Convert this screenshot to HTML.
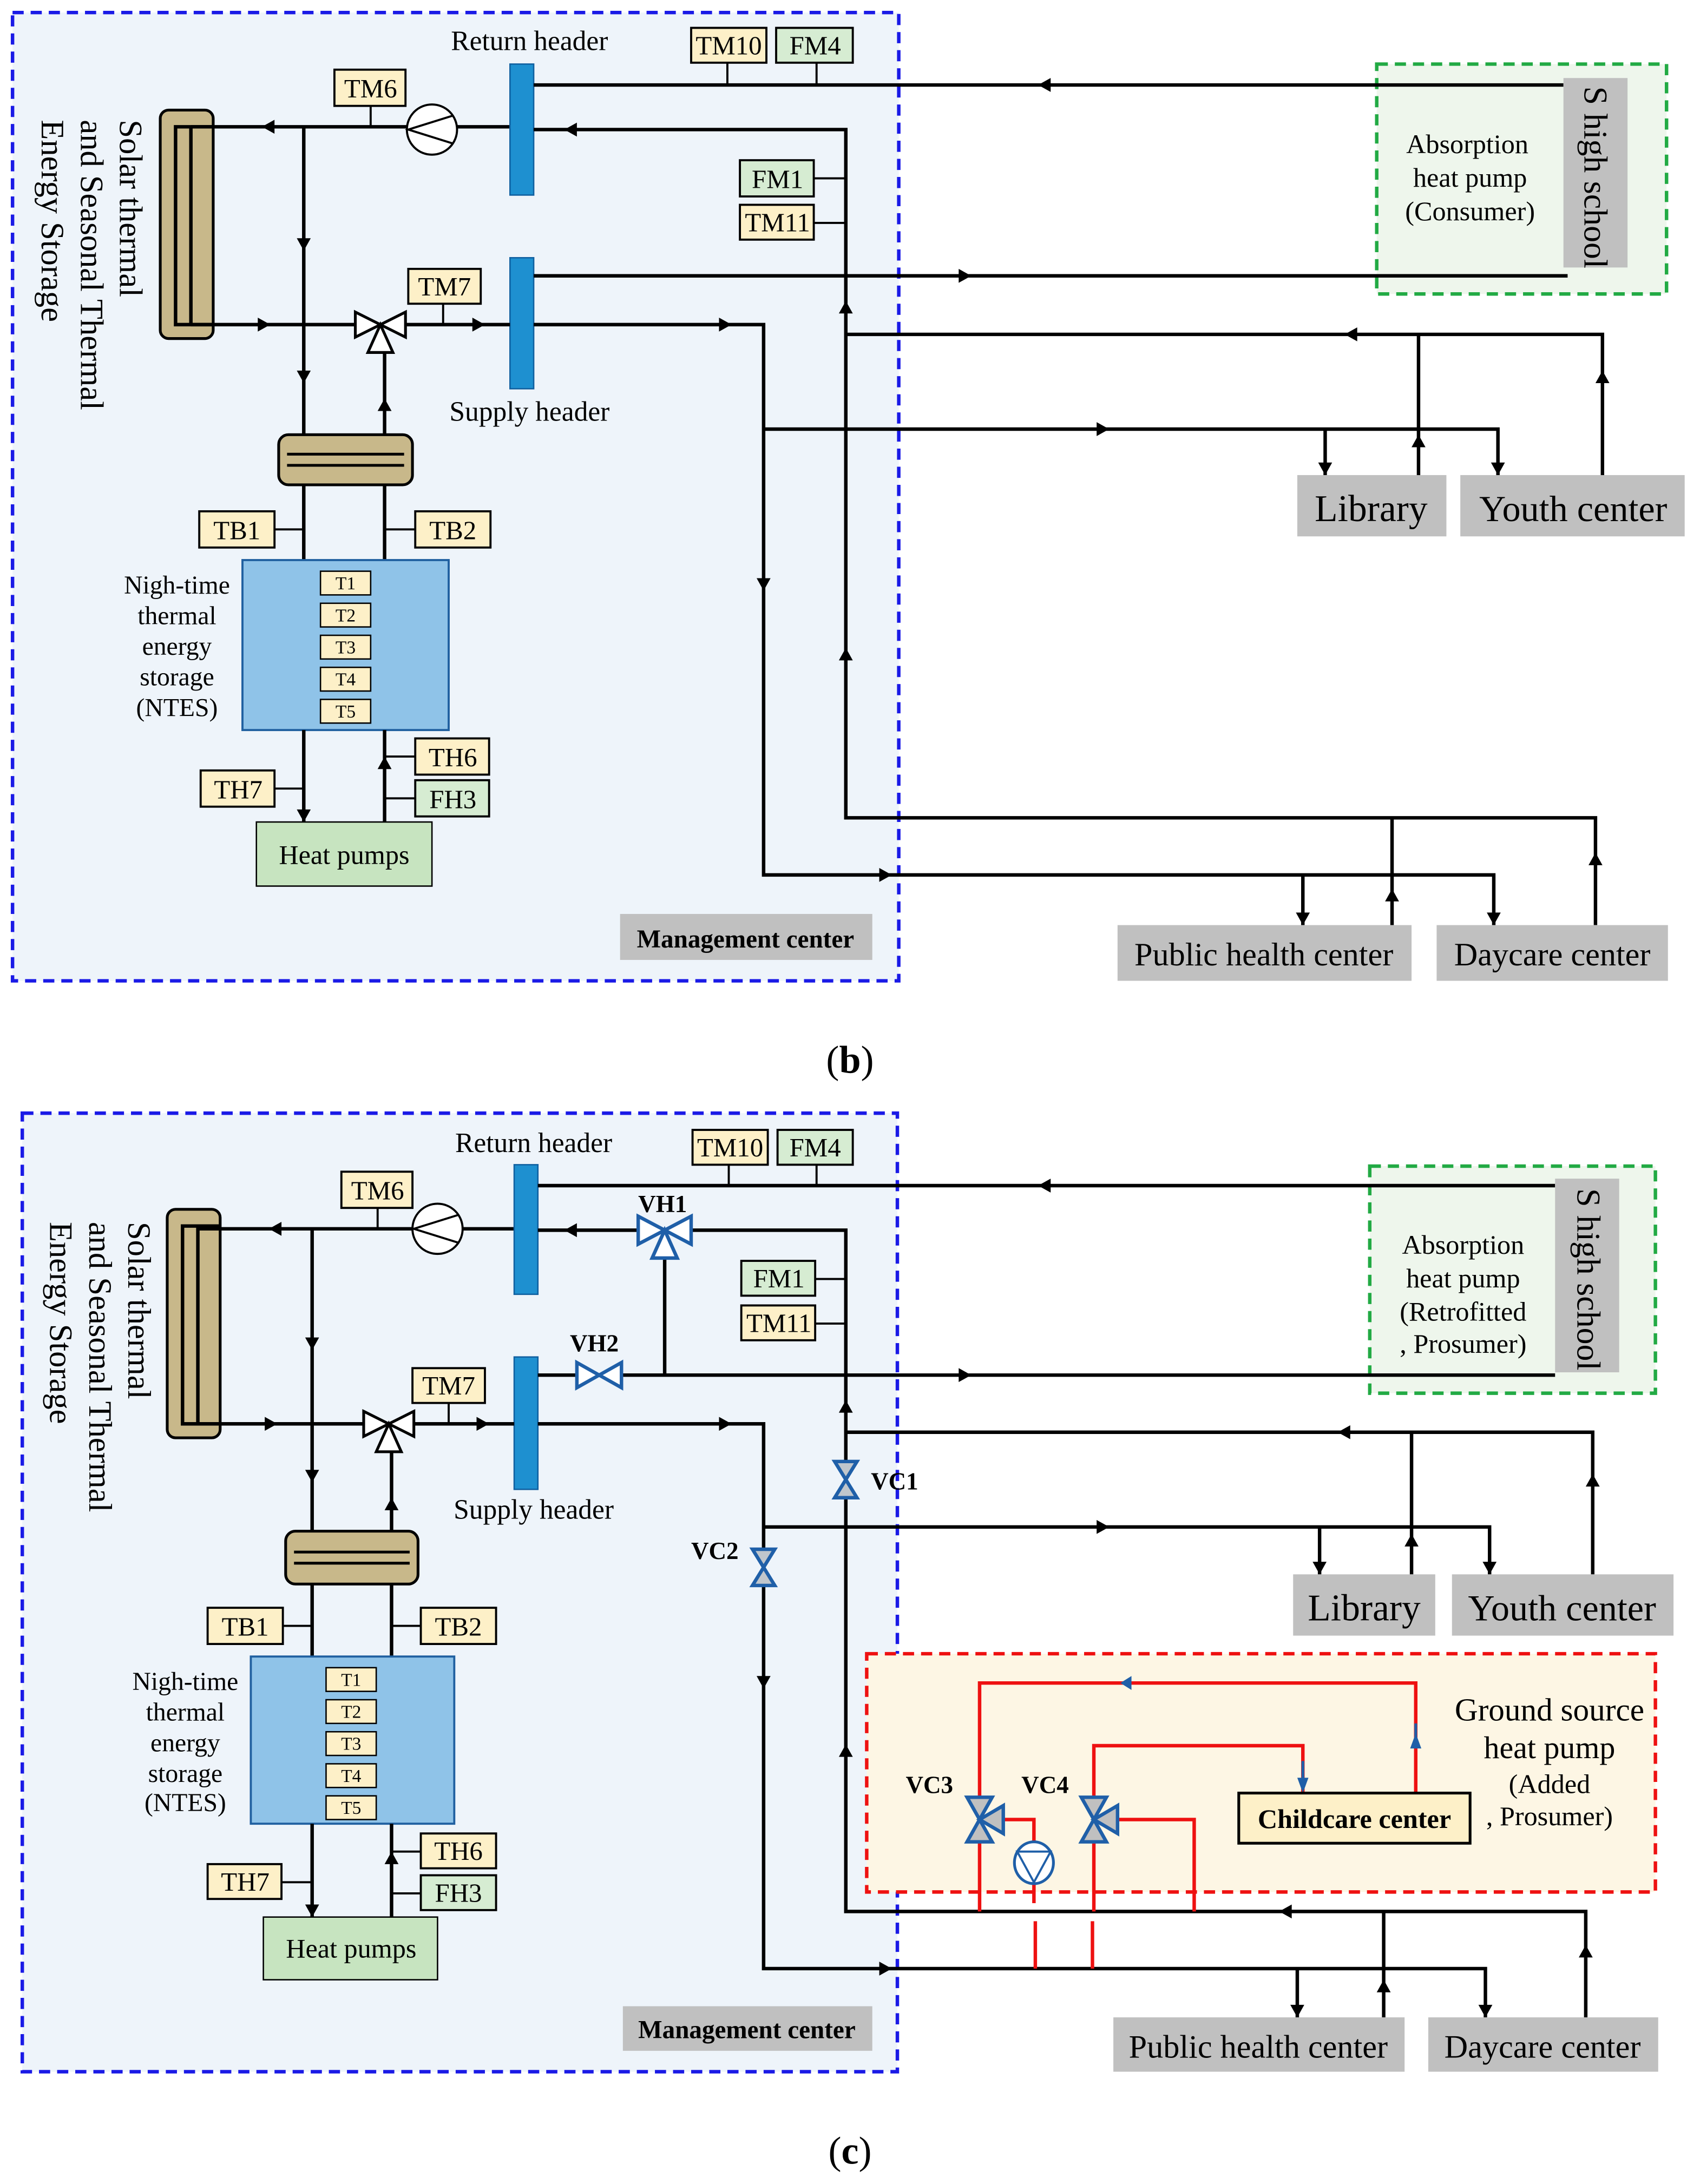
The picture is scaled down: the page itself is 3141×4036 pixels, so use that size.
<!DOCTYPE html>
<html><head><meta charset="utf-8"><style>
html,body{margin:0;padding:0;background:#fff;}
svg{display:block;}
text{font-family:"Liberation Serif",serif;fill:#000;}
</style></head><body>
<svg width="3141" height="4036" viewBox="0 0 1220 1567.6" preserveAspectRatio="none" xmlns="http://www.w3.org/2000/svg">
<defs>
<polygon id="aR" points="-9,-5 0,0 -9,5" fill="#000"/>
<polygon id="aL" points="9,-5 0,0 9,5" fill="#000"/>
<polygon id="aU" points="-5,9 0,0 5,9" fill="#000"/>
<polygon id="aD" points="-5,-9 0,0 5,-9" fill="#000"/>
</defs>

<!-- ================= PANEL B ================= -->
<rect x="9" y="9" width="636" height="695" fill="#eef4fa" stroke="#1a1ae6" stroke-width="2.5" stroke-dasharray="8,5"/>
<rect x="988" y="46" width="208" height="165" fill="#eef6ec" stroke="#22aa44" stroke-width="2.5" stroke-dasharray="8,5"/>

<g>
<rect x="115" y="79" width="38" height="164" rx="6" fill="#c8b88a" stroke="#000" stroke-width="2"/>
<path d="M153,91 H126 V233 H153 M137,91 V233" fill="none" stroke="#000" stroke-width="2.5"/>
<line x1="137" y1="91" x2="366" y2="91" stroke="#000" stroke-width="2.5"/>
<use href="#aL" x="188" y="91"/>
<circle cx="310" cy="93" r="18" fill="#fff" stroke="#000" stroke-width="1.5"/>
<path d="M325,83 L293,93 L325,103" fill="none" stroke="#000" stroke-width="1.5"/>
<rect x="240" y="50" width="51" height="26" fill="#fdf0c8" stroke="#000" stroke-width="1.5"/>
<text x="266" y="70" font-size="19" text-anchor="middle">TM6</text>
<line x1="266" y1="76" x2="266" y2="91" stroke="#000" stroke-width="1.5"/>
<rect x="366" y="46" width="17" height="94" fill="#1e90d0" stroke="#1060a0" stroke-width="1"/>
<rect x="366" y="185" width="17" height="94" fill="#1e90d0" stroke="#1060a0" stroke-width="1"/>
<text x="380" y="36" font-size="20" text-anchor="middle">Return header</text>
<text x="380" y="302" font-size="20" text-anchor="middle">Supply header</text>
<line x1="137" y1="233" x2="366" y2="233" stroke="#000" stroke-width="2.5"/>
<use href="#aR" x="194" y="233"/>
<use href="#aR" x="348" y="233"/>
<polygon points="255,224 273,233 255,242" fill="#fff" stroke="#000" stroke-width="2"/>
<polygon points="291,224 273,233 291,242" fill="#fff" stroke="#000" stroke-width="2"/>
<polygon points="264,253 273,233 282,253" fill="#fff" stroke="#000" stroke-width="2"/>
<rect x="293" y="193" width="52" height="25" fill="#fdf0c8" stroke="#000" stroke-width="1.5"/>
<text x="319" y="212" font-size="19" text-anchor="middle">TM7</text>
<line x1="318" y1="218" x2="318" y2="233" stroke="#000" stroke-width="1.5"/>
<line x1="218" y1="91" x2="218" y2="312" stroke="#000" stroke-width="2.5"/>
<use href="#aD" x="218" y="180"/>
<use href="#aD" x="218" y="275"/>
<line x1="276" y1="253" x2="276" y2="312" stroke="#000" stroke-width="2.5"/>
<use href="#aU" x="276" y="286"/>
<line x1="218" y1="348" x2="218" y2="402" stroke="#000" stroke-width="2.5"/>
<line x1="276" y1="348" x2="276" y2="402" stroke="#000" stroke-width="2.5"/>
<rect x="200" y="312" width="96" height="36" rx="7" fill="#c8b88a" stroke="#000" stroke-width="2"/>
<line x1="206" y1="326" x2="290" y2="326" stroke="#000" stroke-width="2"/>
<line x1="206" y1="334" x2="290" y2="334" stroke="#000" stroke-width="2"/>
<rect x="143" y="367" width="54" height="26" fill="#fdf0c8" stroke="#000" stroke-width="1.5"/>
<text x="170" y="387" font-size="19" text-anchor="middle">TB1</text>
<line x1="197" y1="380" x2="218" y2="380" stroke="#000" stroke-width="1.5"/>
<rect x="298" y="367" width="54" height="26" fill="#fdf0c8" stroke="#000" stroke-width="1.5"/>
<text x="325" y="387" font-size="19" text-anchor="middle">TB2</text>
<line x1="276" y1="380" x2="298" y2="380" stroke="#000" stroke-width="1.5"/>
<rect x="174" y="402" width="148" height="122" fill="#8fc3e8" stroke="#2060a0" stroke-width="1.5"/>
<g font-size="13" text-anchor="middle">
<rect x="230" y="410" width="36" height="17" fill="#fdf0c8" stroke="#000"/><text x="248" y="423">T1</text>
<rect x="230" y="433" width="36" height="17" fill="#fdf0c8" stroke="#000"/><text x="248" y="446">T2</text>
<rect x="230" y="456" width="36" height="17" fill="#fdf0c8" stroke="#000"/><text x="248" y="469">T3</text>
<rect x="230" y="479" width="36" height="17" fill="#fdf0c8" stroke="#000"/><text x="248" y="492">T4</text>
<rect x="230" y="502" width="36" height="17" fill="#fdf0c8" stroke="#000"/><text x="248" y="515">T5</text>
</g>
<g font-size="18.5" text-anchor="middle">
<text x="127" y="426">Nigh-time</text><text x="127" y="448">thermal</text><text x="127" y="470">energy</text><text x="127" y="492">storage</text><text x="127" y="514">(NTES)</text>
</g>
<line x1="218" y1="524" x2="218" y2="590" stroke="#000" stroke-width="2.5"/>
<use href="#aD" x="218" y="590"/>
<line x1="276" y1="524" x2="276" y2="590" stroke="#000" stroke-width="2.5"/>
<use href="#aU" x="276" y="543"/>
<rect x="298" y="530" width="53" height="26" fill="#fdf0c8" stroke="#000" stroke-width="1.5"/>
<text x="325" y="550" font-size="19" text-anchor="middle">TH6</text>
<line x1="276" y1="543" x2="298" y2="543" stroke="#000" stroke-width="1.5"/>
<rect x="298" y="560" width="53" height="26" fill="#d6ecd2" stroke="#000" stroke-width="1.5"/>
<text x="325" y="580" font-size="19" text-anchor="middle">FH3</text>
<line x1="276" y1="573" x2="298" y2="573" stroke="#000" stroke-width="1.5"/>
<rect x="144" y="553" width="53" height="26" fill="#fdf0c8" stroke="#000" stroke-width="1.5"/>
<text x="171" y="573" font-size="19" text-anchor="middle">TH7</text>
<line x1="197" y1="566" x2="218" y2="566" stroke="#000" stroke-width="1.5"/>
<rect x="184" y="590" width="126" height="46" fill="#c7e4c0" stroke="#000" stroke-width="1"/>
<text x="247" y="620" font-size="19.5" text-anchor="middle">Heat pumps</text>
<rect x="445" y="656" width="181" height="33" fill="#c0c0c0"/>
<text x="535" y="680" font-size="18.3" font-weight="bold" text-anchor="middle">Management center</text>
<g font-size="23.5">
<text transform="translate(86,86) rotate(90)">Solar thermal</text>
<text transform="translate(58,86) rotate(90)">and Seasonal Thermal</text>
<text transform="translate(30,86) rotate(90)">Energy Storage</text>
</g>
<rect x="496" y="20" width="54" height="25" fill="#fdf0c8" stroke="#000" stroke-width="1.5"/>
<text x="523" y="39" font-size="19" text-anchor="middle">TM10</text>
<rect x="557" y="20" width="55" height="25" fill="#d6ecd2" stroke="#000" stroke-width="1.5"/>
<text x="585" y="39" font-size="19" text-anchor="middle">FM4</text>
<line x1="522" y1="45" x2="522" y2="61" stroke="#000" stroke-width="1.5"/>
<line x1="586" y1="45" x2="586" y2="61" stroke="#000" stroke-width="1.5"/>
<rect x="531" y="115" width="53" height="26" fill="#d6ecd2" stroke="#000" stroke-width="1.5"/>
<text x="558" y="135" font-size="19" text-anchor="middle">FM1</text>
<rect x="531" y="147" width="53" height="25" fill="#fdf0c8" stroke="#000" stroke-width="1.5"/>
<text x="558" y="166" font-size="19" text-anchor="middle">TM11</text>
<line x1="584" y1="128" x2="607" y2="128" stroke="#000" stroke-width="1.5"/>
<line x1="584" y1="160" x2="607" y2="160" stroke="#000" stroke-width="1.5"/>
</g>

<g stroke="#000" stroke-width="2.5" fill="none">
<line x1="383" y1="61" x2="1122" y2="61"/>
<path d="M383,93 H607 V587 H1145 V664"/>
<line x1="383" y1="198" x2="1125" y2="198"/>
<path d="M383,233 H548 V628 H1072 V664"/>
<path d="M607,240 H1150 V341"/>
<line x1="1018" y1="240" x2="1018" y2="341"/>
<path d="M548,308 H1075 V341"/>
<line x1="951" y1="308" x2="951" y2="341"/>
<line x1="999" y1="587" x2="999" y2="664"/>
<line x1="935" y1="628" x2="935" y2="664"/>
</g>
<use href="#aL" x="745" y="61"/>
<use href="#aL" x="405" y="93"/>
<use href="#aR" x="697" y="198"/>
<use href="#aR" x="525" y="233"/>
<use href="#aD" x="548" y="424"/>
<use href="#aU" x="607" y="216"/>
<use href="#aU" x="607" y="465"/>
<use href="#aL" x="965" y="240"/>
<use href="#aU" x="1150" y="266"/>
<use href="#aU" x="1018" y="312"/>
<use href="#aR" x="796" y="308"/>
<use href="#aD" x="951" y="341"/>
<use href="#aD" x="1075" y="341"/>
<use href="#aR" x="640" y="628"/>
<use href="#aU" x="1145" y="612"/>
<use href="#aU" x="999" y="638"/>
<use href="#aD" x="935" y="664"/>
<use href="#aD" x="1072" y="664"/>

<rect x="1122" y="56" width="46" height="136" fill="#c0c0c0"/>
<text transform="translate(1137,62) rotate(90)" font-size="24">S high school</text>
<g font-size="19.5" text-anchor="middle">
<text x="1053" y="110">Absorption</text><text x="1055" y="134">heat pump</text><text x="1055" y="158">(Consumer)</text>
</g>
<rect x="931" y="341" width="107" height="44" fill="#c0c0c0"/>
<text x="984" y="374" font-size="27" text-anchor="middle">Library</text>
<rect x="1048" y="341" width="161" height="44" fill="#c0c0c0"/>
<text x="1129" y="374" font-size="26.5" text-anchor="middle">Youth center</text>
<rect x="802" y="664" width="211" height="40" fill="#c0c0c0"/>
<text x="907" y="693" font-size="23.4" text-anchor="middle">Public health center</text>
<rect x="1031" y="664" width="166" height="40" fill="#c0c0c0"/>
<text x="1114" y="693" font-size="23.4" text-anchor="middle">Daycare center</text>
<text x="610" y="770" font-size="28" text-anchor="middle">(<tspan font-weight="bold">b</tspan>)</text>

<!-- ================= PANEL C ================= -->
<rect x="16" y="799" width="628" height="688" fill="#eef4fa" stroke="#1a1ae6" stroke-width="2.5" stroke-dasharray="8,5"/>
<rect x="983" y="837" width="205" height="163" fill="#eef6ec" stroke="#22aa44" stroke-width="2.5" stroke-dasharray="8,5"/>
<rect x="622" y="1187" width="566" height="171" fill="#fdf6e4" stroke="#ee1111" stroke-width="2.5" stroke-dasharray="8,5"/>

<g transform="translate(5,789)">
<rect x="115" y="79" width="38" height="164" rx="6" fill="#c8b88a" stroke="#000" stroke-width="2"/>
<path d="M153,91 H126 V233 H153 M137,91 V233" fill="none" stroke="#000" stroke-width="2.5"/>
<line x1="137" y1="93" x2="366" y2="93" stroke="#000" stroke-width="2.5"/>
<use href="#aL" x="188" y="93"/>
<circle cx="309" cy="93" r="18" fill="#fff" stroke="#000" stroke-width="1.5"/>
<path d="M324,83 L292,93 L324,103" fill="none" stroke="#000" stroke-width="1.5"/>
<rect x="240" y="52" width="51" height="26" fill="#fdf0c8" stroke="#000" stroke-width="1.5"/>
<text x="266" y="72" font-size="19" text-anchor="middle">TM6</text>
<line x1="266" y1="78" x2="266" y2="93" stroke="#000" stroke-width="1.5"/>
<rect x="364" y="47" width="17" height="93" fill="#1e90d0" stroke="#1060a0" stroke-width="1"/>
<rect x="364" y="185" width="17" height="95" fill="#1e90d0" stroke="#1060a0" stroke-width="1"/>
<text x="378" y="38" font-size="20" text-anchor="middle">Return header</text>
<text x="378" y="301" font-size="20" text-anchor="middle">Supply header</text>
<line x1="137" y1="233" x2="364" y2="233" stroke="#000" stroke-width="2.5"/>
<use href="#aR" x="194" y="233"/>
<use href="#aR" x="346" y="233"/>
<polygon points="256,224 274,233 256,242" fill="#fff" stroke="#000" stroke-width="2"/>
<polygon points="292,224 274,233 292,242" fill="#fff" stroke="#000" stroke-width="2"/>
<polygon points="265,253 274,233 283,253" fill="#fff" stroke="#000" stroke-width="2"/>
<rect x="291" y="193" width="52" height="25" fill="#fdf0c8" stroke="#000" stroke-width="1.5"/>
<text x="317" y="212" font-size="19" text-anchor="middle">TM7</text>
<line x1="317" y1="218" x2="317" y2="233" stroke="#000" stroke-width="1.5"/>
<line x1="219" y1="93" x2="219" y2="310" stroke="#000" stroke-width="2.5"/>
<use href="#aD" x="219" y="180"/>
<use href="#aD" x="219" y="275"/>
<line x1="276" y1="253" x2="276" y2="310" stroke="#000" stroke-width="2.5"/>
<use href="#aU" x="276" y="286"/>
<line x1="219" y1="348" x2="219" y2="400" stroke="#000" stroke-width="2.5"/>
<line x1="276" y1="348" x2="276" y2="400" stroke="#000" stroke-width="2.5"/>
<rect x="200" y="310" width="95" height="38" rx="7" fill="#c8b88a" stroke="#000" stroke-width="2"/>
<line x1="206" y1="325" x2="289" y2="325" stroke="#000" stroke-width="2"/>
<line x1="206" y1="333" x2="289" y2="333" stroke="#000" stroke-width="2"/>
<rect x="144" y="365" width="54" height="26" fill="#fdf0c8" stroke="#000" stroke-width="1.5"/>
<text x="171" y="385" font-size="19" text-anchor="middle">TB1</text>
<line x1="198" y1="378" x2="219" y2="378" stroke="#000" stroke-width="1.5"/>
<rect x="297" y="365" width="54" height="26" fill="#fdf0c8" stroke="#000" stroke-width="1.5"/>
<text x="324" y="385" font-size="19" text-anchor="middle">TB2</text>
<line x1="276" y1="378" x2="297" y2="378" stroke="#000" stroke-width="1.5"/>
<rect x="175" y="400" width="146" height="120" fill="#8fc3e8" stroke="#2060a0" stroke-width="1.5"/>
<g font-size="13" text-anchor="middle">
<rect x="229" y="408" width="36" height="17" fill="#fdf0c8" stroke="#000"/><text x="247" y="421">T1</text>
<rect x="229" y="431" width="36" height="17" fill="#fdf0c8" stroke="#000"/><text x="247" y="444">T2</text>
<rect x="229" y="454" width="36" height="17" fill="#fdf0c8" stroke="#000"/><text x="247" y="467">T3</text>
<rect x="229" y="477" width="36" height="17" fill="#fdf0c8" stroke="#000"/><text x="247" y="490">T4</text>
<rect x="229" y="500" width="36" height="17" fill="#fdf0c8" stroke="#000"/><text x="247" y="513">T5</text>
</g>
<g font-size="18.5" text-anchor="middle">
<text x="128" y="424">Nigh-time</text><text x="128" y="446">thermal</text><text x="128" y="468">energy</text><text x="128" y="490">storage</text><text x="128" y="511">(NTES)</text>
</g>
<line x1="219" y1="520" x2="219" y2="587" stroke="#000" stroke-width="2.5"/>
<use href="#aD" x="219" y="587"/>
<line x1="276" y1="520" x2="276" y2="587" stroke="#000" stroke-width="2.5"/>
<use href="#aU" x="276" y="540"/>
<rect x="297" y="527" width="54" height="25" fill="#fdf0c8" stroke="#000" stroke-width="1.5"/>
<text x="324" y="546" font-size="19" text-anchor="middle">TH6</text>
<line x1="276" y1="540" x2="297" y2="540" stroke="#000" stroke-width="1.5"/>
<rect x="297" y="557" width="54" height="25" fill="#d6ecd2" stroke="#000" stroke-width="1.5"/>
<text x="324" y="576" font-size="19" text-anchor="middle">FH3</text>
<line x1="276" y1="570" x2="297" y2="570" stroke="#000" stroke-width="1.5"/>
<rect x="144" y="549" width="53" height="25" fill="#fdf0c8" stroke="#000" stroke-width="1.5"/>
<text x="171" y="568" font-size="19" text-anchor="middle">TH7</text>
<line x1="197" y1="562" x2="219" y2="562" stroke="#000" stroke-width="1.5"/>
<rect x="184" y="587" width="125" height="45" fill="#c7e4c0" stroke="#000" stroke-width="1"/>
<text x="247" y="616" font-size="19.5" text-anchor="middle">Heat pumps</text>
<rect x="442" y="651" width="179" height="32" fill="#c0c0c0"/>
<text x="531" y="674" font-size="18.3" font-weight="bold" text-anchor="middle">Management center</text>
<g font-size="23.5">
<text transform="translate(87,88) rotate(90)">Solar thermal</text>
<text transform="translate(59,88) rotate(90)">and Seasonal Thermal</text>
<text transform="translate(31,88) rotate(90)">Energy Storage</text>
</g>
</g>
<rect x="497" y="811" width="54" height="25" fill="#fdf0c8" stroke="#000" stroke-width="1.5"/>
<text x="524" y="830" font-size="19" text-anchor="middle">TM10</text>
<rect x="558" y="811" width="54" height="25" fill="#d6ecd2" stroke="#000" stroke-width="1.5"/>
<text x="585" y="830" font-size="19" text-anchor="middle">FM4</text>
<line x1="523" y1="836" x2="523" y2="851" stroke="#000" stroke-width="1.5"/>
<line x1="586" y1="836" x2="586" y2="851" stroke="#000" stroke-width="1.5"/>
<rect x="532" y="905" width="53" height="25" fill="#d6ecd2" stroke="#000" stroke-width="1.5"/>
<text x="559" y="924" font-size="19" text-anchor="middle">FM1</text>
<rect x="532" y="937" width="53" height="25" fill="#fdf0c8" stroke="#000" stroke-width="1.5"/>
<text x="559" y="956" font-size="19" text-anchor="middle">TM11</text>
<line x1="585" y1="918" x2="607" y2="918" stroke="#000" stroke-width="1.5"/>
<line x1="585" y1="950" x2="607" y2="950" stroke="#000" stroke-width="1.5"/>

<g stroke="#000" stroke-width="2.5" fill="none">
<line x1="386" y1="851" x2="1116" y2="851"/>
<path d="M386,883 H607 V1372 H1138 V1448"/>
<line x1="477" y1="895" x2="477" y2="987"/>
<line x1="386" y1="987" x2="1116" y2="987"/>
<path d="M386,1022 H548 V1413 H1066 V1448"/>
<path d="M607,1028 H1143 V1130"/>
<line x1="1013" y1="1028" x2="1013" y2="1130"/>
<path d="M548,1096 H1069 V1130"/>
<line x1="947" y1="1096" x2="947" y2="1130"/>
<line x1="993" y1="1372" x2="993" y2="1448"/>
<line x1="931" y1="1413" x2="931" y2="1448"/>
</g>
<use href="#aL" x="745" y="851"/>
<use href="#aL" x="405" y="883"/>
<use href="#aR" x="697" y="987"/>
<use href="#aR" x="525" y="1022"/>
<use href="#aD" x="548" y="1212"/>
<use href="#aU" x="607" y="1005"/>
<use href="#aU" x="607" y="1252"/>
<use href="#aL" x="960" y="1028"/>
<use href="#aU" x="1143" y="1058"/>
<use href="#aU" x="1013" y="1101"/>
<use href="#aR" x="796" y="1096"/>
<use href="#aD" x="947" y="1130"/>
<use href="#aD" x="1069" y="1130"/>
<use href="#aR" x="640" y="1413"/>
<use href="#aL" x="918" y="1372"/>
<use href="#aU" x="1138" y="1396"/>
<use href="#aU" x="993" y="1421"/>
<use href="#aD" x="931" y="1448"/>
<use href="#aD" x="1066" y="1448"/>

<g stroke="#1f5fa8" stroke-width="2.5" fill="#fff">
<polygon points="458,873 477,883 458,893"/>
<polygon points="496,873 477,883 496,893"/>
<polygon points="468,903 477,883 486,903"/>
<polygon points="414,978 430,987 414,996"/>
<polygon points="446,978 430,987 446,996"/>
</g>
<g stroke="#1f5fa8" stroke-width="2.5" fill="#c0c6cc">
<polygon points="599,1049 607,1062 615,1049"/>
<polygon points="599,1075 607,1062 615,1075"/>
<polygon points="540,1112 548,1125 556,1112"/>
<polygon points="540,1138 548,1125 556,1138"/>
</g>
<g font-size="17.5" font-weight="bold">
<text x="458" y="870">VH1</text>
<text x="409" y="970">VH2</text>
<text x="625" y="1069">VC1</text>
<text x="496" y="1119">VC2</text>
<text x="650" y="1287">VC3</text>
<text x="733" y="1287">VC4</text>
</g>

<g stroke="#ee1111" stroke-width="2.5" fill="none">
<path d="M703,1372 V1208 H1016 V1287"/>
<path d="M785,1372 V1253 H935 V1287"/>
<path d="M721,1306 H742 V1323"/>
<path d="M801,1306 H857 V1372"/>
<line x1="742" y1="1352" x2="742" y2="1366"/>
<line x1="743" y1="1379" x2="743" y2="1413"/>
<line x1="784" y1="1379" x2="784" y2="1413"/>
</g>
<polygon points="812,1203 804,1208 812,1213" fill="#1f5fa8"/>
<line x1="1016" y1="1237" x2="1016" y2="1255" stroke="#1f5fa8" stroke-width="2"/>
<polygon points="1012,1255 1016,1244 1020,1255" fill="#1f5fa8"/>
<line x1="935" y1="1264" x2="935" y2="1280" stroke="#1f5fa8" stroke-width="2"/>
<polygon points="931,1276 935,1287 939,1276" fill="#1f5fa8"/>
<g stroke="#1f5fa8" stroke-width="2.5" fill="#c0c0c0">
<polygon points="694,1290 712,1290 703,1306"/>
<polygon points="694,1322 712,1322 703,1306"/>
<polygon points="720,1296 720,1316 703,1306"/>
<polygon points="776,1290 794,1290 785,1306"/>
<polygon points="776,1322 794,1322 785,1306"/>
<polygon points="802,1296 802,1316 785,1306"/>
</g>
<ellipse cx="742" cy="1337" rx="14" ry="15" fill="#fff" stroke="#1f5fa8" stroke-width="2"/>
<path d="M730,1329 H754 L742,1351 Z" fill="none" stroke="#1f5fa8" stroke-width="1.5"/>
<rect x="889" y="1287" width="166" height="36" fill="#fdf0c8" stroke="#000" stroke-width="2"/>
<text x="972" y="1312" font-size="19.5" font-weight="bold" text-anchor="middle">Childcare center</text>
<g text-anchor="middle">
<text x="1112" y="1235" font-size="23">Ground source</text>
<text x="1112" y="1262" font-size="22.5">heat pump</text>
<text x="1112" y="1287" font-size="19.5">(Added</text>
<text x="1112" y="1310" font-size="19.5">, Prosumer)</text>
</g>

<rect x="1116" y="846" width="46" height="139" fill="#c0c0c0"/>
<text transform="translate(1132,853) rotate(90)" font-size="24">S high school</text>
<g font-size="19.5" text-anchor="middle">
<text x="1050" y="900">Absorption</text><text x="1050" y="924">heat pump</text><text x="1050" y="948">(Retrofitted</text><text x="1050" y="971">, Prosumer)</text>
</g>
<rect x="928" y="1130" width="102" height="44" fill="#c0c0c0"/>
<text x="979" y="1163" font-size="27" text-anchor="middle">Library</text>
<rect x="1042" y="1130" width="159" height="44" fill="#c0c0c0"/>
<text x="1121" y="1163" font-size="26.5" text-anchor="middle">Youth center</text>
<rect x="799" y="1448" width="209" height="39" fill="#c0c0c0"/>
<text x="903" y="1477" font-size="23.4" text-anchor="middle">Public health center</text>
<rect x="1025" y="1448" width="165" height="39" fill="#c0c0c0"/>
<text x="1107" y="1477" font-size="23.4" text-anchor="middle">Daycare center</text>
<text x="610" y="1553" font-size="28" text-anchor="middle">(<tspan font-weight="bold">c</tspan>)</text>
</svg>
</body></html>
